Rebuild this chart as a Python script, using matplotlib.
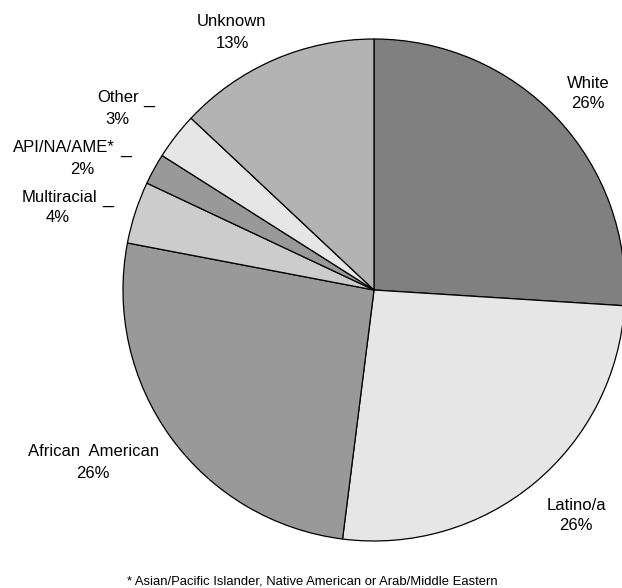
import matplotlib
matplotlib.use("Agg")
import matplotlib.pyplot as plt

plt.rcParams["font.family"] = ["Liberation Sans", "DejaVu Sans"]

# share of cases by race/ethnicity, clockwise from 12 o'clock
groups = ["White", "Latino/a", "African  American", "Multiracial",
          "API/NA/AME*", "Other", "Unknown"]
shares = [26, 26, 26, 4, 2, 3, 13]
shades = ["#808080", "#e6e6e6", "#999999", "#cccccc",
          "#999999", "#e6e6e6", "#b3b3b3"]
footnote = "* Asian/Pacific Islander, Native American or Arab/Middle Eastern"

W, H = 622, 588
fig = plt.figure(figsize=(W / 100, H / 100), dpi=100)
ax = fig.add_axes([0, 0, 1, 1])

cx, cy, r = 374, H - 290, 251
ax.pie(shares, colors=shades, startangle=90, counterclock=False,
       center=(cx, cy), radius=r, frame=True,
       wedgeprops=dict(edgecolor="black", linewidth=0.9))
ax.set_xlim(0, W)
ax.set_ylim(0, H)
ax.set_aspect("equal")
ax.axis("off")

# label layout in pixel coords (from top): name xy, percent xy, stub x
label_pos = {
    "White": ((588, 83), (588, 104), None),
    "Latino/a": ((576, 505), (576, 526), None),
    "African  American": ((94, 452), (93, 473), None),
    "Multiracial": ((59, 197), (58, 218), 102),
    "API/NA/AME*": ((64, 147), (82, 169), 120),
    "Other": ((118, 97), (117, 119), 143),
    "Unknown": ((231, 22), (232, 43), None),
}

for name, share in zip(groups, shares):
    (nx, ny), (px, py), stub = label_pos[name]
    ax.text(nx, H - ny, name, ha="center", va="center", fontsize=12)
    ax.text(px, H - py, f"{share}%", ha="center", va="center", fontsize=12)
    if stub is not None:
        ax.text(stub, H - ny - 6, "_", ha="left", va="baseline", fontsize=14)

ax.text(312, H - 581, footnote, ha="center", va="center", fontsize=9.4)

fig.savefig("out.png", dpi=100)
